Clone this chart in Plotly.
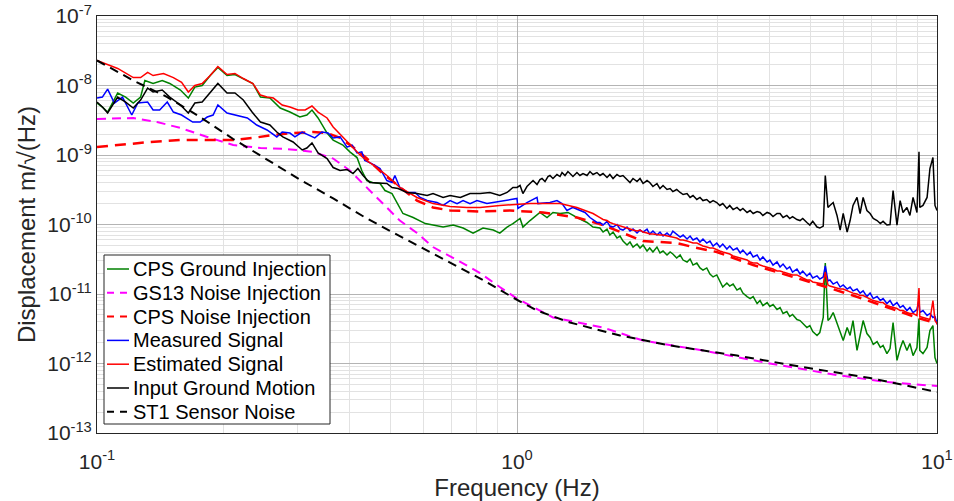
import plotly.graph_objects as go

# ---------------- data ----------------
# shared dense frequency grid (Hz) used for the noisy high-frequency part of the measured spectra
hf_f = [1.576, 1.603, 1.638, 1.664, 1.693, 1.730, 1.759, 1.788, 1.828, 1.858, 1.889, 1.931, 1.963, 1.996, 2.04,
        2.07, 2.107, 2.154, 2.19, 2.227, 2.276, 2.315, 2.35, 2.40, 2.446, 2.486, 2.54, 2.583, 2.625, 2.68,
        2.727, 2.772, 2.83, 2.88, 2.93, 2.99, 3.04, 3.09, 3.16, 3.21, 3.27, 3.34, 3.40, 3.45, 3.53,
        3.59, 3.65, 3.73, 3.79, 3.85, 3.94, 4.00, 4.07, 4.16, 4.23, 4.30, 4.39, 4.46, 4.53, 4.64,
        4.72, 4.79, 4.90, 4.98, 5.06, 5.18, 5.26, 5.36, 5.42, 5.50, 5.56, 5.66, 5.78, 5.88, 5.98,
        6.11, 6.21, 6.31, 6.45, 6.56, 6.67, 6.81, 6.93, 7.05, 7.20, 7.33, 7.44, 7.60, 7.73, 7.86,
        8.03, 8.17, 8.30, 8.48, 8.62, 8.77, 8.96, 9.06, 9.10, 9.26, 9.47, 9.62, 9.78, 9.89, 10.0]

# CPS Ground Injection (green)
green_lo_f = [0.1, 0.103, 0.106, 0.112, 0.117, 0.122, 0.127, 0.130, 0.136, 0.143, 0.149, 0.158, 0.165, 0.171, 0.178,
              0.186, 0.194, 0.204, 0.213, 0.223, 0.235, 0.245, 0.258, 0.273, 0.288, 0.304, 0.316, 0.325, 0.336, 0.353,
              0.365, 0.385, 0.400, 0.416, 0.427, 0.439, 0.453, 0.472, 0.485, 0.504, 0.519, 0.535, 0.566, 0.605, 0.631,
              0.667, 0.705, 0.744, 0.786, 0.830, 0.878, 0.910, 0.947, 0.978, 1.017, 1.033, 1.074, 1.116, 1.134, 1.179,
              1.218, 1.266, 1.322, 1.389, 1.468, 1.517]
green_lo_v = [5.59e-9, 4.90e-9, 4.15e-9, 7.79e-9, 6.82e-9, 5.59e-9, 6.82e-9, 1.18e-8, 1.07e-8, 1.18e-8, 1.07e-8, 8.60e-9, 6.60e-9, 9.50e-9, 1.0e-8,
              1.39e-8, 1.82e-8, 1.39e-8, 1.44e-8, 1.26e-8, 1.07e-8, 6.82e-9, 6.60e-9, 4.74e-9, 4.15e-9, 3.52e-9, 3.76e-9, 4.44e-9, 3.41e-9, 2.07e-9,
              1.64e-9, 1.39e-9, 1.11e-9, 9.19e-10, 5.98e-10, 4.29e-10, 4.02e-10, 3.89e-10, 3.08e-10, 2.79e-10, 2.0e-10, 1.44e-10, 1.26e-10, 1.03e-10, 9.82e-11,
              9.19e-11, 9.82e-11, 8.89e-11, 7.53e-11, 8.89e-11, 8.32e-11, 7.53e-11, 9.19e-11, 1.03e-10, 1.22e-10, 9.19e-11, 1.14e-10, 1.35e-10, 1.49e-10, 1.26e-10,
              1.49e-10, 1.44e-10, 1.49e-10, 1.26e-10, 1.07e-10, 9.19e-11]
green_hf_v = [8.89e-11, 7.79e-11, 8.60e-11, 7.05e-11, 7.79e-11, 6.39e-11, 6.82e-11, 5.78e-11, 5.07e-11, 5.59e-11,
              4.74e-11, 5.24e-11, 4.59e-11, 5.07e-11, 4.15e-11, 4.59e-11, 4.02e-11, 4.74e-11, 3.89e-11, 4.15e-11,
              3.64e-11, 4.02e-11, 3.76e-11, 3.29e-11, 3.64e-11, 3.08e-11, 2.89e-11, 3.19e-11, 2.61e-11, 2.79e-11,
              2.37e-11, 2.21e-11, 2.37e-11, 1.94e-11, 1.76e-11, 1.88e-11, 1.54e-11, 1.26e-11, 1.44e-11, 1.30e-11,
              1.39e-11, 1.14e-11, 1.22e-11, 1.03e-11, 9.19e-12, 8.60e-12, 9.19e-12, 7.29e-12, 8.05e-12, 6.82e-12,
              7.53e-12, 6.60e-12, 7.05e-12, 5.98e-12, 6.39e-12, 5.24e-12, 5.59e-12, 4.74e-12, 5.07e-12, 4.29e-12,
              4.15e-12, 3.76e-12, 3.29e-12, 3.52e-12, 2.89e-12, 2.53e-12, 2.79e-12, 4.59e-12, 2.79e-11, 4.15e-12,
              4.44e-12, 5.41e-12, 3.76e-12, 2.98e-12, 2.14e-12, 3.29e-12, 2.53e-12, 4.15e-12, 1.54e-12, 2.53e-12,
              4.15e-12, 2.70e-12, 2.37e-12, 1.88e-12, 2.07e-12, 1.70e-12, 1.82e-12, 1.39e-12, 1.64e-12, 3.89e-12,
              1.11e-12, 1.64e-12, 2.14e-12, 1.54e-12, 1.94e-12, 1.30e-12, 1.70e-12, 4.44e-12, 1.54e-12, 1.39e-12,
              1.70e-12, 2.98e-12, 3.52e-12, 1.22e-12, 1.0e-12]

# GS13 Noise Injection (magenta dashed)
gs13_f = [0.1, 0.122, 0.139, 0.158, 0.183, 0.211, 0.245, 0.283, 0.327, 0.365, 0.400, 0.439, 0.479, 0.526,
          0.578, 0.631, 0.733, 0.817, 0.910, 1.0, 1.218, 1.603, 1.996, 2.772, 4.00, 5.78, 7.60, 10.0]
gs13_v = [3.29e-9, 3.41e-9, 2.98e-9, 2.45e-9, 1.82e-9, 1.39e-9, 1.26e-9, 1.22e-9, 1.11e-9, 8.89e-10, 5.98e-10, 3.41e-10, 2.0e-10, 1.14e-10,
          7.53e-11, 4.74e-11, 2.89e-11, 2.0e-11, 1.26e-11, 8.60e-12, 4.59e-12, 3.29e-12, 2.14e-12, 1.54e-12, 1.0e-12, 6.82e-13, 5.41e-13, 4.74e-13]

# CPS Noise Injection (red dashed)
cpsn_f = [0.1, 0.113, 0.134, 0.158, 0.183, 0.211, 0.235, 0.263, 0.293, 0.327, 0.353, 0.379, 0.407, 0.439, 0.479,
          0.526, 0.578, 0.631, 0.693, 0.817, 0.962, 1.153, 1.389, 1.603, 1.828, 1.996, 2.19, 2.40, 2.625, 2.99,
          3.65, 4.39, 5.26, 6.31, 7.60, 9.10, 10.0]
cpsn_v = [1.30e-9, 1.39e-9, 1.54e-9, 1.64e-9, 1.64e-9, 1.64e-9, 1.76e-9, 1.94e-9, 2.07e-9, 2.14e-9, 2.07e-9, 1.76e-9, 1.30e-9, 8.89e-10, 5.41e-10,
          3.41e-10, 2.21e-10, 1.76e-10, 1.59e-10, 1.54e-10, 1.59e-10, 1.49e-10, 1.26e-10, 9.82e-11, 7.05e-11, 5.78e-11, 5.59e-11, 5.41e-11, 4.74e-11, 4.02e-11,
          2.61e-11, 1.88e-11, 1.35e-11, 9.50e-12, 6.39e-12, 4.44e-12, 3.76e-12]

# Measured Signal (blue)
meas_lo_f = [0.1, 0.103, 0.106, 0.110, 0.115, 0.121, 0.125, 0.132, 0.136, 0.141, 0.147, 0.152, 0.159, 0.169, 0.176,
             0.183, 0.189, 0.194, 0.204, 0.215, 0.228, 0.240, 0.254, 0.268, 0.276, 0.288, 0.296, 0.308, 0.318, 0.330,
             0.343, 0.355, 0.365, 0.379, 0.394, 0.405, 0.416, 0.427, 0.434, 0.451, 0.472, 0.490, 0.504, 0.512, 0.526,
             0.547, 0.572, 0.588, 0.611, 0.645, 0.667, 0.693, 0.720, 0.744, 0.773, 0.803, 0.848, 0.926, 1.0, 1.005,
             1.056, 1.116, 1.122, 1.198, 1.245, 1.280, 1.315, 1.359, 1.412, 1.452, 1.492, 1.550]
meas_lo_v = [6.60e-9, 6.82e-9, 8.89e-9, 5.59e-9, 6.82e-9, 3.76e-9, 5.59e-9, 5.78e-9, 4.44e-9, 4.44e-9, 5.78e-9, 4.15e-9, 3.76e-9, 2.98e-9, 2.98e-9,
             3.52e-9, 3.76e-9, 5.24e-9, 4.02e-9, 3.76e-9, 3.41e-9, 2.70e-9, 2.29e-9, 1.82e-9, 2.14e-9, 2.07e-9, 1.82e-9, 2.14e-9, 1.94e-9, 1.76e-9,
             2.14e-9, 2.07e-9, 1.76e-9, 1.82e-9, 1.30e-9, 1.39e-9, 1.07e-9, 1.11e-9, 8.32e-10, 7.53e-10, 6.39e-10, 4.29e-10, 4.02e-10, 5.07e-10, 3.41e-10,
             2.89e-10, 2.89e-10, 2.45e-10, 2.21e-10, 2.07e-10, 1.88e-10, 2.21e-10, 2.0e-10, 2.21e-10, 2.0e-10, 2.21e-10, 2.0e-10, 2.21e-10, 2.37e-10, 1.70e-10,
             2.07e-10, 2.45e-10, 2.0e-10, 2.07e-10, 2.21e-10, 2.0e-10, 1.59e-10, 1.76e-10, 1.59e-10, 1.49e-10, 1.26e-10, 1.07e-10]
meas_hf_v = [1.07e-10, 9.82e-11, 1.11e-10, 9.50e-11, 9.19e-11, 1.0e-10, 8.60e-11, 8.32e-11, 9.19e-11, 8.05e-11,
             8.60e-11, 7.53e-11, 8.32e-11, 7.79e-11, 8.60e-11, 7.29e-11, 8.05e-11, 7.05e-11, 7.79e-11, 6.82e-11,
             7.53e-11, 6.82e-11, 8.05e-11, 7.29e-11, 6.60e-11, 7.05e-11, 6.18e-11, 6.82e-11, 5.98e-11, 6.39e-11,
             5.59e-11, 6.18e-11, 5.41e-11, 5.78e-11, 4.90e-11, 5.41e-11, 4.74e-11, 5.24e-11, 4.44e-11, 4.90e-11,
             4.29e-11, 4.59e-11, 3.89e-11, 4.29e-11, 3.64e-11, 4.02e-11, 3.41e-11, 3.64e-11, 3.08e-11, 3.41e-11,
             2.89e-11, 3.08e-11, 2.61e-11, 2.89e-11, 2.45e-11, 2.70e-11, 2.29e-11, 2.45e-11, 2.07e-11, 2.29e-11,
             1.94e-11, 2.14e-11, 1.82e-11, 2.0e-11, 1.70e-11, 1.82e-11, 1.64e-11, 1.76e-11, 2.53e-11, 1.54e-11,
             1.59e-11, 1.39e-11, 1.49e-11, 1.26e-11, 1.35e-11, 1.18e-11, 1.26e-11, 1.11e-11, 1.18e-11, 1.03e-11,
             1.11e-11, 9.19e-12, 1.03e-11, 8.60e-12, 9.19e-12, 8.05e-12, 8.60e-12, 7.29e-12, 8.05e-12, 6.82e-12,
             7.53e-12, 6.39e-12, 6.82e-12, 5.78e-12, 6.39e-12, 5.41e-12, 5.98e-12, 8.05e-12, 5.41e-12, 5.78e-12,
             4.90e-12, 5.24e-12, 4.59e-12, 4.74e-12, 3.76e-12]

# Estimated Signal (red)
est_lo_f = [0.1, 0.107, 0.112, 0.122, 0.127, 0.132, 0.136, 0.144, 0.152, 0.159, 0.165, 0.171, 0.178, 0.186, 0.194,
            0.204, 0.213, 0.223, 0.235, 0.245, 0.254, 0.263, 0.276, 0.288, 0.301, 0.313, 0.325, 0.336, 0.353, 0.365,
            0.385, 0.407, 0.423, 0.439, 0.464, 0.490, 0.526, 0.578, 0.631, 0.693, 0.760, 0.817, 0.910, 1.074, 1.266,
            1.389, 1.517]
est_lo_v = [2.29e-8, 1.94e-8, 1.76e-8, 1.30e-8, 1.30e-8, 1.54e-8, 1.39e-8, 1.49e-8, 1.30e-8, 1.11e-8, 8.05e-9, 1.0e-8, 1.07e-8, 1.39e-8, 1.88e-8,
            1.44e-8, 1.49e-8, 1.26e-8, 1.07e-8, 7.29e-9, 6.82e-9, 6.60e-9, 5.24e-9, 4.90e-9, 4.44e-9, 4.44e-9, 5.07e-9, 4.15e-9, 3.41e-9, 2.53e-9,
            1.82e-9, 1.30e-9, 1.0e-9, 8.32e-10, 6.60e-10, 5.07e-10, 3.41e-10, 2.45e-10, 2.0e-10, 1.82e-10, 1.76e-10, 1.76e-10, 1.88e-10, 2.0e-10, 2.0e-10,
            1.76e-10, 1.44e-10]
est_hf_v = [1.26e-10, 1.18e-10, 1.14e-10, 1.07e-10, 1.03e-10, 9.82e-11, 9.50e-11, 9.19e-11, 8.89e-11, 8.60e-11,
            8.32e-11, 8.05e-11, 8.32e-11, 7.79e-11, 7.53e-11, 7.29e-11, 7.29e-11, 7.05e-11, 7.05e-11, 7.05e-11,
            6.82e-11, 6.60e-11, 6.60e-11, 6.39e-11, 5.98e-11, 5.98e-11, 5.78e-11, 5.59e-11, 5.41e-11, 5.41e-11,
            5.07e-11, 4.90e-11, 4.74e-11, 4.59e-11, 4.59e-11, 4.29e-11, 4.15e-11, 4.02e-11, 3.89e-11, 3.76e-11,
            3.52e-11, 3.41e-11, 3.29e-11, 3.19e-11, 3.08e-11, 2.89e-11, 2.79e-11, 2.79e-11, 2.61e-11, 2.53e-11,
            2.45e-11, 2.37e-11, 2.29e-11, 2.14e-11, 2.14e-11, 2.07e-11, 2.0e-11, 1.94e-11, 1.88e-11, 1.88e-11,
            1.76e-11, 1.70e-11, 1.59e-11, 1.59e-11, 1.49e-11, 1.44e-11, 1.44e-11, 1.39e-11, 2.07e-11, 1.35e-11,
            1.30e-11, 1.26e-11, 1.22e-11, 1.18e-11, 1.18e-11, 1.11e-11, 1.07e-11, 1.03e-11, 1.0e-11, 9.50e-12,
            9.50e-12, 8.89e-12, 8.32e-12, 8.05e-12, 7.79e-12, 7.53e-12, 7.53e-12, 6.82e-12, 6.60e-12, 6.39e-12,
            6.18e-12, 5.78e-12, 5.78e-12, 5.41e-12, 5.24e-12, 5.24e-12, 4.90e-12, 1.22e-11, 4.74e-12, 4.59e-12,
            4.44e-12, 4.29e-12, 8.05e-12, 4.15e-12, 3.76e-12]

# Input Ground Motion (black)
ground_lo_f = [0.1, 0.103, 0.106, 0.112, 0.117, 0.122, 0.127, 0.132, 0.136, 0.143, 0.149, 0.158, 0.165, 0.171, 0.178,
               0.186, 0.194, 0.204, 0.213, 0.223, 0.234, 0.245, 0.258, 0.268, 0.277, 0.293, 0.308, 0.316, 0.325, 0.336,
               0.353, 0.365, 0.379, 0.394, 0.407, 0.418, 0.430, 0.446, 0.472, 0.490, 0.504, 0.521, 0.547, 0.578, 0.611,
               0.631, 0.667, 0.693, 0.733, 0.773, 0.817, 0.862, 0.910, 0.947, 0.978, 1.0, 1.017, 1.033, 1.056, 1.074,
               1.092, 1.116, 1.134, 1.147, 1.166, 1.185, 1.198, 1.218, 1.245, 1.266, 1.280, 1.301, 1.322, 1.337, 1.359,
               1.389, 1.412, 1.436, 1.468, 1.492, 1.517, 1.550]
ground_lo_v = [5.78e-9, 4.90e-9, 4.02e-9, 6.82e-9, 5.78e-9, 4.74e-9, 6.18e-9, 9.19e-9, 8.05e-9, 8.60e-9, 6.82e-9, 5.24e-9, 4.02e-9, 5.59e-9, 5.78e-9,
               7.79e-9, 1.07e-8, 7.79e-9, 7.79e-9, 6.18e-9, 4.15e-9, 2.98e-9, 2.70e-9, 2.14e-9, 1.82e-9, 1.54e-9, 1.18e-9, 1.26e-9, 1.49e-9, 1.07e-9,
               8.89e-10, 6.60e-10, 5.98e-10, 6.18e-10, 5.41e-10, 6.39e-10, 5.07e-10, 4.02e-10, 3.89e-10, 3.89e-10, 3.41e-10, 3.29e-10, 2.89e-10, 2.79e-10, 2.61e-10,
               2.79e-10, 2.45e-10, 2.61e-10, 2.45e-10, 2.79e-10, 2.79e-10, 2.89e-10, 2.61e-10, 2.89e-10, 3.41e-10, 3.41e-10, 3.64e-10, 2.79e-10, 3.52e-10, 3.89e-10,
               4.29e-10, 3.76e-10, 4.44e-10, 4.59e-10, 4.15e-10, 4.90e-10, 5.07e-10, 4.59e-10, 5.24e-10, 4.90e-10, 5.59e-10, 5.07e-10, 5.78e-10, 5.41e-10, 4.90e-10,
               5.59e-10, 5.07e-10, 5.41e-10, 5.07e-10, 5.78e-10, 5.24e-10, 5.59e-10]
ground_hf_v = [5.07e-10, 5.41e-10, 4.74e-10, 5.24e-10, 4.59e-10, 5.24e-10, 4.90e-10, 5.07e-10, 4.44e-10, 4.02e-10,
               4.59e-10, 4.15e-10, 4.59e-10, 3.89e-10, 4.29e-10, 4.02e-10, 3.52e-10, 3.89e-10, 3.29e-10, 3.64e-10,
               3.19e-10, 3.29e-10, 2.98e-10, 3.19e-10, 2.89e-10, 2.70e-10, 2.79e-10, 2.45e-10, 2.61e-10, 2.29e-10,
               2.45e-10, 2.21e-10, 2.29e-10, 2.07e-10, 2.21e-10, 2.07e-10, 1.88e-10, 2.0e-10, 1.70e-10, 1.88e-10,
               1.64e-10, 1.76e-10, 1.59e-10, 1.70e-10, 1.49e-10, 1.59e-10, 1.44e-10, 1.54e-10, 1.49e-10, 1.35e-10,
               1.49e-10, 1.44e-10, 1.30e-10, 1.44e-10, 1.44e-10, 1.26e-10, 1.35e-10, 1.22e-10, 1.30e-10, 1.18e-10,
               1.14e-10, 1.22e-10, 1.07e-10, 9.82e-11, 1.11e-10, 9.19e-11, 8.89e-11, 9.50e-11, 5.07e-10, 1.76e-10,
               1.88e-10, 2.07e-10, 1.35e-10, 8.32e-11, 1.44e-10, 7.79e-11, 1.14e-10, 1.88e-10, 2.45e-10, 1.44e-10,
               2.45e-10, 1.59e-10, 1.44e-10, 1.22e-10, 1.14e-10, 1.03e-10, 1.11e-10, 9.82e-11, 1.0e-10, 3.08e-10,
               9.82e-11, 2.21e-10, 1.49e-10, 1.76e-10, 1.35e-10, 2.45e-10, 1.49e-10, 1.11e-9, 1.76e-10, 1.88e-10,
               2.45e-10, 6.39e-10, 9.19e-10, 1.88e-10, 1.59e-10]

# ST1 Sensor Noise (black dashed)
st1_f = [0.1, 0.122, 0.147, 0.176, 0.211, 0.254, 0.304, 0.365, 0.439, 0.526, 0.693, 0.830, 0.978, 1.116,
         1.337, 1.759, 2.315, 3.34, 4.79, 6.93, 10.0]
st1_v = [2.29e-8, 1.18e-8, 6.82e-9, 3.52e-9, 1.70e-9, 8.60e-10, 4.44e-10, 2.37e-10, 1.22e-10, 6.82e-11, 2.79e-11, 1.59e-11, 8.89e-12, 5.78e-12,
         3.89e-12, 2.53e-12, 1.82e-12, 1.30e-12, 8.89e-13, 6.18e-13, 3.89e-13]

x_tick_vals = [0.1, 1, 10]
x_tick_text = ["10<sup>-1</sup>", "10<sup>0</sup>", "10<sup>1</sup>"]
y_tick_vals = [1e-13, 1e-12, 1e-11, 1e-10, 1e-9, 1e-8, 1e-7]
y_tick_text = ["10<sup>-13</sup>", "10<sup>-12</sup>", "10<sup>-11</sup>", "10<sup>-10</sup>",
               "10<sup>-9</sup>", "10<sup>-8</sup>", "10<sup>-7</sup>"]

# ---------------- figure ----------------
series = [
    ("CPS Ground Injection", green_lo_f + hf_f, green_lo_v + green_hf_v, "#008000", "solid", 1.5),
    ("GS13 Noise Injection", gs13_f, gs13_v, "#ff00ff", "9px,6px", 2),
    ("CPS Noise Injection", cpsn_f, cpsn_v, "#ff0000", "11px,7px", 2.5),
    ("Measured Signal", meas_lo_f + hf_f, meas_lo_v + meas_hf_v, "#0000ff", "solid", 1.5),
    ("Estimated Signal", est_lo_f + hf_f, est_lo_v + est_hf_v, "#ff0000", "solid", 1.5),
    ("Input Ground Motion", ground_lo_f + hf_f, ground_lo_v + ground_hf_v, "#000000", "solid", 1.5),
    ("ST1 Sensor Noise", st1_f, st1_v, "#000000", "9px,6px", 2),
]

W, H = 954, 501
ML, MR, MT, MB = 97, 17, 16, 68
PW, PH = W - ML - MR, H - MT - MB


def px(xp):
    return (xp - ML) / PW


def py(yp):
    return (H - MB - yp) / PH


fig = go.Figure()
for name, f, v, col, dash, w in series:
    assert len(f) == len(v), (name, len(f), len(v))
    fig.add_trace(go.Scatter(x=f, y=v, mode="lines", name=name, showlegend=False,
                             line=dict(color=col, dash=dash, width=w)))

minor_x = [k * 10.0 ** e for e in (-1, 0) for k in range(2, 10)]
minor_y = [k * 10.0 ** e for e in range(-13, -7) for k in range(2, 10)]

font_family = "Liberation Sans, Arial, sans-serif"
axis_color = "#262626"

fig.update_xaxes(
    type="log", range=[-1, 1], automargin=False,
    tickvals=x_tick_vals, ticktext=x_tick_text,
    tickfont=dict(size=21, color=axis_color, family=font_family),
    showgrid=True, gridcolor="#b4b4b4", gridwidth=1,
    minor=dict(tickvals=minor_x, showgrid=True, gridcolor="#e2e2e2", gridwidth=1, ticks=""),
    showline=True, mirror=True, linecolor=axis_color, linewidth=1,
    ticks="", ticklen=0, ticklabelstandoff=10, zeroline=False,
    title=dict(text="Frequency (Hz)", font=dict(size=24, color=axis_color, family=font_family), standoff=12),
)
fig.update_yaxes(
    type="log", range=[-13, -7], automargin=False,
    tickvals=y_tick_vals, ticktext=y_tick_text,
    tickfont=dict(size=21, color=axis_color, family=font_family),
    showgrid=True, gridcolor="#b4b4b4", gridwidth=1,
    minor=dict(tickvals=minor_y, showgrid=True, gridcolor="#e2e2e2", gridwidth=1, ticks=""),
    showline=True, mirror=True, linecolor=axis_color, linewidth=1,
    ticks="", ticklen=0, zeroline=False,
    title=dict(text="Displacement m/√(Hz)", font=dict(size=24, color=axis_color, family=font_family), standoff=4),
)

# ---- legend drawn as a box with line samples and text labels ----
shapes = [dict(type="rect", xref="paper", yref="paper",
               x0=px(104), x1=px(330), y0=py(424), y1=py(255),
               fillcolor="white", line=dict(color=axis_color, width=1), layer="above")]
annotations = []
row0, row_step = 269, 23.8
for i, (name, f, v, col, dash, w) in enumerate(series):
    yc = row0 + i * row_step
    shapes.append(dict(type="line", xref="paper", yref="paper",
                       x0=px(107), x1=px(129), y0=py(yc), y1=py(yc),
                       line=dict(color=col, dash=dash if dash == "solid" else "7px,6px", width=min(w, 2)),
                       layer="above"))
    annotations.append(dict(xref="paper", yref="paper", x=px(131), y=py(yc),
                            xanchor="left", yanchor="middle", showarrow=False,
                            text=name, font=dict(size=20, color="#000000", family=font_family)))

fig.update_layout(
    width=W, height=H,
    margin=dict(l=ML, r=MR, t=MT, b=MB),
    paper_bgcolor="white", plot_bgcolor="white",
    font=dict(family=font_family, color=axis_color),
    showlegend=False,
    shapes=shapes, annotations=annotations,
)

fig.write_html("out.html")
